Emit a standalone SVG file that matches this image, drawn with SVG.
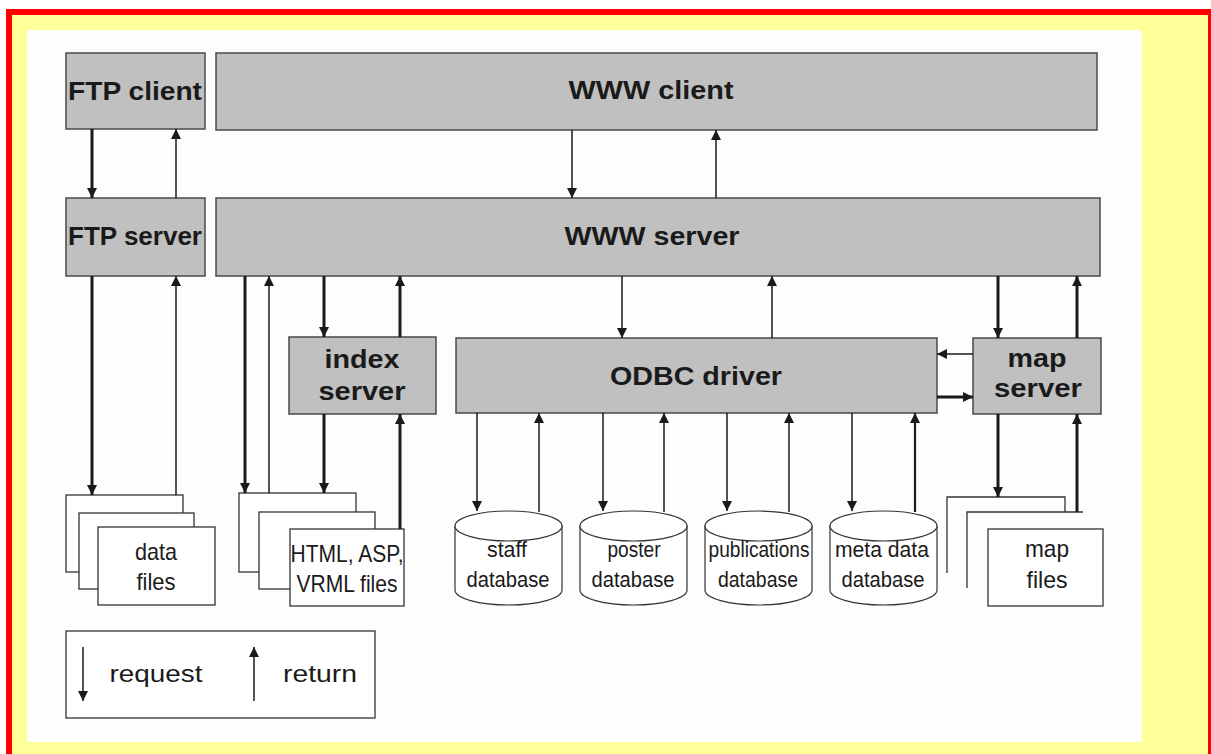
<svg xmlns="http://www.w3.org/2000/svg" width="1211" height="754" viewBox="0 0 1211 754">
<defs>
<marker id="ah" markerUnits="userSpaceOnUse" markerWidth="10" markerHeight="10" refX="10" refY="5" orient="auto">
<path d="M0,0 L10,5 L0,10 z" fill="#1a1a1a"/>
</marker>
<style>
.box{fill:#c0c0c0;stroke:#4a4a4a;stroke-width:1.5}
.doc{fill:#fff;stroke:#333;stroke-width:1.3}
.db{fill:#fff;stroke:#333;stroke-width:1.2}
.b{font-family:"Liberation Sans",Arial,sans-serif;font-weight:bold;font-size:25px;fill:#1a1a1a;text-anchor:middle}
.n{font-family:"Liberation Sans",Arial,sans-serif;font-size:24px;fill:#1a1a1a;text-anchor:middle}
.s{font-family:"Liberation Sans",Arial,sans-serif;font-size:22px;fill:#1a1a1a;text-anchor:middle}
.thick{stroke:#1a1a1a;stroke-width:3;fill:none;marker-end:url(#ah)}
.thin{stroke:#1a1a1a;stroke-width:1.5;fill:none;marker-end:url(#ah)}
.ln{stroke:#333;stroke-width:1.3;fill:none}
</style>
</defs>
<rect x="0" y="0" width="1211" height="754" fill="#fff"/>
<rect x="6" y="9" width="1205" height="745" fill="#ff0000"/>
<rect x="12" y="15" width="1196" height="739" fill="#ffff99"/>
<rect x="27" y="30" width="1115" height="712" fill="#fdfdfd"/>

<g id="ftp-client"><rect class="box" x="66" y="53" width="139" height="76"/><text class="b" x="135" y="100" textLength="134" lengthAdjust="spacingAndGlyphs">FTP client</text></g>
<g id="www-client"><rect class="box" x="216" y="53" width="881" height="77"/><text class="b" x="651" y="99" textLength="165" lengthAdjust="spacingAndGlyphs">WWW client</text></g>
<g id="ftp-server"><rect class="box" x="66" y="198" width="139" height="78"/><text class="b" x="135" y="245" textLength="134" lengthAdjust="spacingAndGlyphs">FTP server</text></g>
<g id="www-server"><rect class="box" x="216" y="198" width="884" height="78"/><text class="b" x="652" y="245" textLength="175" lengthAdjust="spacingAndGlyphs">WWW server</text></g>
<g id="index-server"><rect class="box" x="289" y="337" width="147" height="77"/><text class="b" x="362" y="368" textLength="75" lengthAdjust="spacingAndGlyphs">index</text><text class="b" x="362" y="400" textLength="87" lengthAdjust="spacingAndGlyphs">server</text></g>
<g id="odbc-driver"><rect class="box" x="456" y="338" width="481" height="75"/><text class="b" x="696" y="385" textLength="172" lengthAdjust="spacingAndGlyphs">ODBC driver</text></g>
<g id="map-server"><rect class="box" x="973" y="338" width="128" height="76"/><text class="b" x="1037" y="367" textLength="59" lengthAdjust="spacingAndGlyphs">map</text><text class="b" x="1038" y="397" textLength="88" lengthAdjust="spacingAndGlyphs">server</text></g>

<g id="data-files">
<rect class="doc" x="66" y="495" width="117" height="77"/>
<rect class="doc" x="79" y="513" width="115" height="76"/>
<rect class="doc" x="98" y="527" width="117" height="78"/>
<text class="n" x="156" y="560" textLength="42" lengthAdjust="spacingAndGlyphs">data</text>
<text class="n" x="156" y="590" textLength="39" lengthAdjust="spacingAndGlyphs">files</text>
</g>
<g id="html-files">
<rect class="doc" x="239" y="493" width="117" height="79"/>
<rect class="doc" x="259" y="512" width="116" height="77"/>
<rect class="doc" x="290" y="529" width="114" height="77"/>
<text class="n" x="347" y="562" textLength="113" lengthAdjust="spacingAndGlyphs">HTML, ASP,</text>
<text class="n" x="347" y="592" textLength="101" lengthAdjust="spacingAndGlyphs">VRML files</text>
</g>
<g id="map-files">
<path class="ln" d="M947,573 V497 H1065 V512"/>
<path class="ln" d="M967,588 V512 H1083"/>
<rect class="doc" x="988" y="529" width="115" height="77"/>
<text class="n" x="1047" y="557" textLength="44" lengthAdjust="spacingAndGlyphs">map</text>
<text class="n" x="1047" y="588" textLength="41" lengthAdjust="spacingAndGlyphs">files</text>
</g>

<g id="staff-db">
<path class="db" d="M455,526 V590 A53.5,15 0 0,0 562,590 V526 Z"/>
<ellipse class="db" cx="508.5" cy="526" rx="53.5" ry="15"/>
<text class="s" x="507" y="557" textLength="40" lengthAdjust="spacingAndGlyphs">staff</text>
<text class="s" x="508" y="587" textLength="83" lengthAdjust="spacingAndGlyphs">database</text>
</g>
<g id="poster-db">
<path class="db" d="M580,526 V590 A53.5,15 0 0,0 687,590 V526 Z"/>
<ellipse class="db" cx="633.5" cy="526" rx="53.5" ry="15"/>
<text class="s" x="634" y="557" textLength="53" lengthAdjust="spacingAndGlyphs">poster</text>
<text class="s" x="633" y="587" textLength="83" lengthAdjust="spacingAndGlyphs">database</text>
</g>
<g id="publications-db">
<path class="db" d="M705,526 V590 A53.5,15 0 0,0 812,590 V526 Z"/>
<ellipse class="db" cx="758.5" cy="526" rx="53.5" ry="15"/>
<text class="s" x="759" y="557" textLength="101" lengthAdjust="spacingAndGlyphs">publications</text>
<text class="s" x="758" y="587" textLength="80" lengthAdjust="spacingAndGlyphs">database</text>
</g>
<g id="metadata-db">
<path class="db" d="M830,526 V590 A53.5,15 0 0,0 937,590 V526 Z"/>
<ellipse class="db" cx="883.5" cy="526" rx="53.5" ry="15"/>
<text class="s" x="882" y="557" textLength="94" lengthAdjust="spacingAndGlyphs">meta data</text>
<text class="s" x="883" y="587" textLength="83" lengthAdjust="spacingAndGlyphs">database</text>
</g>

<g id="legend">
<rect class="doc" x="66" y="631" width="309" height="87"/>
<line class="thin" x1="83" y1="647" x2="83" y2="701"/>
<text class="n" x="156" y="682" textLength="93" lengthAdjust="spacingAndGlyphs">request</text>
<line class="thin" x1="254" y1="701" x2="254" y2="647"/>
<text class="n" x="320" y="682" textLength="74" lengthAdjust="spacingAndGlyphs">return</text>
</g>

<g id="connectors">
<line class="thick" x1="92" y1="129" x2="92" y2="198"/>
<line class="thin" x1="176" y1="198" x2="176" y2="129"/>
<line class="thick" x1="92" y1="276" x2="92" y2="495"/>
<line class="thin" x1="176" y1="495" x2="176" y2="276"/>
<line class="thin" x1="572" y1="130" x2="572" y2="198"/>
<line class="thin" x1="716" y1="198" x2="716" y2="130"/>
<line class="thick" x1="245" y1="276" x2="245" y2="493"/>
<line class="thin" x1="269" y1="493" x2="269" y2="276"/>
<line class="thick" x1="324" y1="276" x2="324" y2="337"/>
<line class="thick" x1="400" y1="337" x2="400" y2="276"/>
<line class="thick" x1="324" y1="414" x2="324" y2="493"/>
<line class="thick" x1="400" y1="529" x2="400" y2="414"/>
<line class="thin" x1="622" y1="276" x2="622" y2="338"/>
<line class="thin" x1="772" y1="338" x2="772" y2="276"/>
<line class="thick" x1="998" y1="276" x2="998" y2="338"/>
<line class="thick" x1="1077" y1="338" x2="1077" y2="276"/>
<line class="thin" x1="973" y1="354" x2="937" y2="354"/>
<line class="thick" x1="937" y1="397" x2="973" y2="397"/>
<line class="thick" x1="998" y1="414" x2="998" y2="497"/>
<line class="thick" x1="1077" y1="512" x2="1077" y2="414"/>
<line class="thin" x1="477" y1="413" x2="477" y2="511"/>
<line class="thin" x1="539" y1="512" x2="539" y2="413"/>
<line class="thin" x1="603" y1="413" x2="603" y2="511"/>
<line class="thin" x1="664" y1="512" x2="664" y2="413"/>
<line class="thin" x1="727" y1="413" x2="727" y2="511"/>
<line class="thin" x1="789" y1="512" x2="789" y2="413"/>
<line class="thin" x1="852" y1="413" x2="852" y2="511"/>
<line class="thick" x1="915" y1="512" x2="915" y2="413" style="stroke-width:2.2"/>
</g>
</svg>
